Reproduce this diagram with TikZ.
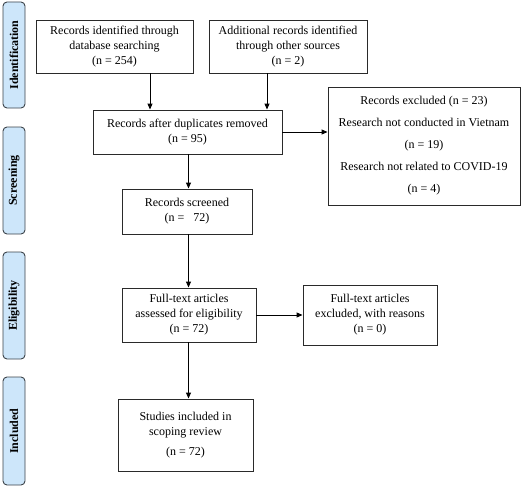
\documentclass[tikz,border=0pt]{standalone}
\usepackage{fontspec}
\setmainfont{Liberation Serif}
\usetikzlibrary{arrows.meta,calc}
\definecolor{sidefill}{HTML}{CDE6FA}
\definecolor{sidedraw}{HTML}{3C434A}
\definecolor{boxdraw}{HTML}{2A2A2A}
\tikzset{
  box/.style={draw=boxdraw, line width=0.9pt, fill=white, align=center, inner sep=0pt,
    font=\fontsize{12}{15}\selectfont},
  side/.style={draw=sidedraw, line width=0.9pt, fill=sidefill, rounded corners=4pt,
    minimum height=22pt, inner sep=0pt, rotate=90, font=\fontsize{12}{12}\selectfont\bfseries},
  arr/.style={-{Triangle[length=6pt,width=5pt]}, line width=0.9pt, draw=black}
}
\begin{document}
\begin{tikzpicture}[x=1pt,y=-1pt]
\useasboundingbox (0,0) rectangle (522,487);
% side labels
\node[side, minimum width=106pt] (sid) at (14,55) {Identification};
\node[side, minimum width=107pt] (ssc) at (14,180.5) {Screening};
\node[side, minimum width=107pt] (sel) at (14,305.5) {Eligibility};
\node[side, minimum width=108pt] (sin) at (14,431) {Included};
% boxes
\node[box, minimum width=157pt, minimum height=53pt] (db) at (114.5,46.5)
  {Records identified through\\database searching\\(n = 254)};
\node[box, minimum width=158pt, minimum height=53pt] (oth) at (288,46.5)
  {Additional records identified\\through other sources\\(n = 2)};
\node[box, minimum width=189pt, minimum height=44pt] (dup) at (187.5,132)
  {Records after duplicates removed\\(n = 95)};
\node[box, minimum width=192pt, minimum height=118pt,
  font=\fontsize{12}{22}\selectfont] (exc) at (424,146)
  {Records excluded (n = 23)\\Research not conducted in Vietnam\\(n = 19)\\Research not related to COVID-19\\(n = 4)};
\node[box, minimum width=130pt, minimum height=45pt] (scr) at (187,211.5)
  {Records screened\\(n = \ \ 72)};
\node[box, minimum width=134pt, minimum height=54pt] (ft) at (189,315)
  {Full-text articles\\assessed for eligibility\\(n = 72)};
\node[box, minimum width=134pt, minimum height=60pt] (fte) at (370,315)
  {Full-text articles\\excluded, with reasons\\(n = 0)};
\node[box, minimum width=135pt, minimum height=72pt] (inc) at (185.5,435)
  {Studies included in\\scoping review\\[5pt](n = 72)};
% connectors
\coordinate (c1) at (150,0);
\coordinate (c2) at (267,0);
\coordinate (c3) at (188.5,0);
\draw[arr] (db.south -| c1) -- (dup.north -| c1);
\draw[arr] (oth.south -| c2) -- (dup.north -| c2);
\draw[arr] (dup.east) -- (exc.west |- dup.east);
\draw[arr] (dup.south -| c3) -- (scr.north -| c3);
\draw[arr] (scr.south -| c3) -- (ft.north -| c3);
\draw[arr] (ft.east) -- (fte.west |- ft.east);
\draw[arr] (ft.south -| c3) -- (inc.north -| c3);
\end{tikzpicture}
\end{document}
